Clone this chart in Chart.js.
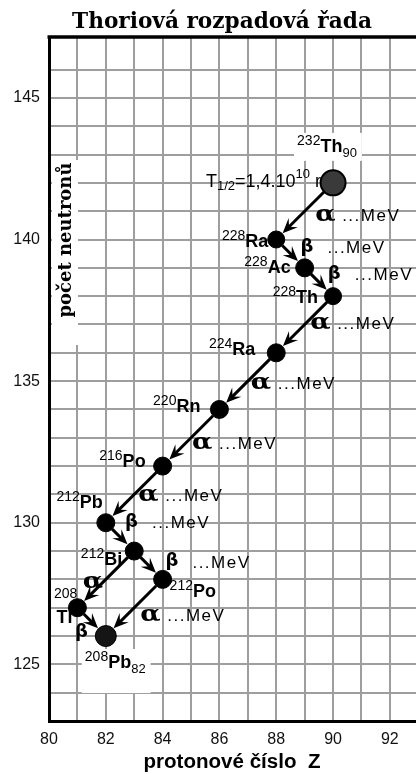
<!DOCTYPE html>
<html><head><meta charset="utf-8">
<script src="https://cdn.jsdelivr.net/npm/chart.js@4.4.1/dist/chart.umd.min.js"></script>
<style>html,body{margin:0;padding:0;background:#fff;overflow:hidden}#wrap{position:relative;width:416px;height:774px}</style>
</head><body><div id="wrap"><canvas id="c" width="416" height="774"></canvas></div>
<script>
// ---- data ----
const chartTitle = 'Thoriová rozpadová řada';
const xTitle = 'protonové číslo  Z';
const yTitle = 'počet neutronů';
const massNumbers = [232,228,228,228,224,220,216,212,212,212,208,208];
const symbols = ['Th','Ra','Ac','Th','Ra','Rn','Po','Pb','Bi','Po','Tl','Pb'];
const protonNumbers = [90,88,89,90,88,86,84,82,83,84,81,82];
const neutronNumbers = [142,140,139,138,136,134,132,130,129,128,127,126];
const decayFrom = [0,1,2,3,4,5,6,7,8,8,9,10];
const decayTo   = [1,2,3,4,5,6,7,8,9,10,11,11];
const decayTypes = ['α','β','β','α','α','α','α','β','β','α','α','β'];
const decayEnergy = ['...MeV','...MeV','...MeV','...MeV','...MeV','...MeV','...MeV','...MeV','...MeV','','...MeV',''];
const halfLife = {base:'1,4.10', exp:'10', unit:'r'};
const xTickValues = [80,82,84,86,88,90,92];
const yTickValues = [125,130,135,140,145];

// ---- styles / layout ----
const markerRadius = [12.5,8.5,9,8.5,9,9,9,9,9,9,9,10.5];
const markerFill = ['#3a3a3a','#000','#000','#000','#000','#000','#000','#000','#000','#000','#000','#151515'];
const showZ = [true,false,false,false,false,false,false,false,false,false,false,true];
const labelBg = [true,false,false,false,false,false,false,false,false,false,false,true];
const labelPlace = [
  ['left',-36,-31],['right',-8,7],['right',-14,5],['right',-15,7],['right',-21,2],
  ['right',-19,3],['right',-17,1],['right',-3,-15],['right',-12,14],['left',7,18],
  ['tl',0,0],['left',-21,32]
];
const decayPlace = [
  [10.5,4],[10,-6.5],[9,-8],[5.5,-1.5],[3,1.5],[1,5],[4,0.5],[5,-14.5],[17,-3.5],[-23,3],[6,7.5],[-16.6,10]
];
const SANS = '"Liberation Sans", Arial, sans-serif';
const F_SYM = 'bold 18px ' + SANS;
const F_SUP = '14px ' + SANS;
const F_SUB = '13px ' + SANS;
const F_MEV = '17px ' + SANS;
const F_ALPHA = 'bold 23px "DejaVu Serif", serif';
const F_BETA = 'bold 18px "DejaVu Sans", sans-serif';
const GRID = '#9e9e9e';

function drawRich(ctx, segs, x, y, align){
  let w = 0; const ws = [];
  for (const s of segs){ ctx.font = s.font; ctx.letterSpacing = s.ls || '0px'; const m = ctx.measureText(s.t).width; ws.push(m); w += m; }
  let cx = align === 'right' ? x - w : (align === 'center' ? x - w/2 : x);
  const x0 = cx;
  segs.forEach((s,i)=>{ ctx.font = s.font; ctx.letterSpacing = s.ls || '0px'; ctx.fillText(s.t, cx, y + (s.dy||0)); cx += ws[i]; });
  ctx.letterSpacing = '0px';
  return {x0, x1: x0 + w};
}
function measureRich(ctx, segs){
  let w = 0;
  for (const s of segs){ ctx.font = s.font; ctx.letterSpacing = s.ls || '0px'; w += ctx.measureText(s.t).width; }
  ctx.letterSpacing = '0px';
  return w;
}
function nuclideSegs(i){
  const s = [{t:String(massNumbers[i]), font:F_SUP, dy:-7},{t:symbols[i], font:F_SYM}];
  if (showZ[i]) s.push({t:String(protonNumbers[i]), font:F_SUB, dy:5});
  return s;
}
function arrow(ctx, x1,y1,x2,y2,r1,r2){
  const dx=x2-x1, dy=y2-y1, L=Math.hypot(dx,dy), ux=dx/L, uy=dy/L;
  const sx=x1+ux*r1, sy=y1+uy*r1, tx=x2-ux*(r2+0.5), ty=y2-uy*(r2+0.5);
  const hl=13, hw=6.5, px=-uy, py=ux;
  const bx=tx-ux*hl, by=ty-uy*hl;
  ctx.strokeStyle='#000'; ctx.fillStyle='#000'; ctx.lineWidth=3; ctx.lineCap='butt';
  ctx.beginPath(); ctx.moveTo(sx,sy); ctx.lineTo(bx+ux*5,by+uy*5); ctx.stroke();
  ctx.beginPath();
  ctx.moveTo(tx,ty);
  ctx.lineTo(bx+px*hw-ux*2, by+py*hw-uy*2);
  ctx.lineTo(bx+ux*4, by+uy*4);
  ctx.lineTo(bx-px*hw-ux*2, by-py*hw-uy*2);
  ctx.closePath(); ctx.fill();
}

const overlay = {
  id:'overlay',
  beforeDatasetsDraw(chart){
    const {ctx, chartArea:a, scales:{x,y}} = chart;
    ctx.save();
    ctx.strokeStyle='#000'; ctx.lineWidth=3.5;
    ctx.beginPath(); ctx.moveTo(a.left-1.5, a.top); ctx.lineTo(a.right, a.top); ctx.stroke();
    ctx.fillStyle='#fff'; ctx.fillRect(a.left+3, 160, 26, 185);
    ctx.textBaseline='alphabetic'; ctx.textAlign='left';
    labelPlace.forEach((p,i)=>{
      if (!labelBg[i]) return;
      const px=x.getPixelForValue(protonNumbers[i]), py=y.getPixelForValue(neutronNumbers[i]);
      const w = measureRich(ctx, nuclideSegs(i));
      const lx = px+p[1], by = py+p[2];
      ctx.fillStyle='#fff';
      ctx.fillRect(lx-3, by-19, w+8, i===11 ? 44 : 28);
    });
    decayFrom.forEach((f,k)=>{
      const t=decayTo[k];
      arrow(ctx, x.getPixelForValue(protonNumbers[f]), y.getPixelForValue(neutronNumbers[f]),
                 x.getPixelForValue(protonNumbers[t]), y.getPixelForValue(neutronNumbers[t]),
                 markerRadius[f], markerRadius[t]);
    });
    ctx.restore();
  },
  afterDatasetsDraw(chart){
    const {ctx, chartArea:a, scales:{x,y}} = chart;
    ctx.save();
    ctx.fillStyle='#000'; ctx.textAlign='left'; ctx.textBaseline='alphabetic';
    labelPlace.forEach((p,i)=>{
      const px=x.getPixelForValue(protonNumbers[i]), py=y.getPixelForValue(neutronNumbers[i]);
      if (p[0]==='tl'){
        drawRich(ctx,[{t:String(massNumbers[i]),font:F_SUP}], px, py-10, 'right');
        drawRich(ctx,[{t:symbols[i],font:F_SYM}], px-5, py+15, 'right');
      } else {
        drawRich(ctx, nuclideSegs(i), px+p[1], py+p[2], p[0]);
      }
    });
    {
      const px=x.getPixelForValue(protonNumbers[0]), py=y.getPixelForValue(neutronNumbers[0]);
      const M='18px '+SANS, S='13px '+SANS;
      drawRich(ctx,[{t:'T',font:M},{t:'1/2',font:S,dy:3},{t:'='+halfLife.base,font:M},{t:halfLife.exp,font:S,dy:-9},{t:' '+halfLife.unit,font:M}], px-12, py+4, 'right');
    }
    decayFrom.forEach((f,k)=>{
      const t=decayTo[k];
      const mx=(x.getPixelForValue(protonNumbers[f])+x.getPixelForValue(protonNumbers[t]))/2;
      const my=(y.getPixelForValue(neutronNumbers[f])+y.getPixelForValue(neutronNumbers[t]))/2;
      const gx=mx+decayPlace[k][0], gy=my+decayPlace[k][1];
      if (decayTypes[k]==='α'){
        ctx.save(); ctx.translate(gx, gy+6); ctx.scale(1.15,1); ctx.font=F_ALPHA; ctx.fillText('α', 0, 0); ctx.restore();
      } else { ctx.font=F_BETA; ctx.fillText('β', gx, gy+4.7); }
      if (decayEnergy[k]){ ctx.font=F_MEV; ctx.letterSpacing='1.5px'; ctx.fillText(decayEnergy[k], gx+27, gy+6); ctx.letterSpacing='0px'; }
    });
    ctx.restore();
  },
  afterDraw(chart){
    const {ctx, chartArea:a} = chart;
    ctx.save();
    ctx.fillStyle='#000'; ctx.textAlign='center'; ctx.textBaseline='alphabetic';
    ctx.font='bold 20px "DejaVu Serif", serif';
    let w=ctx.measureText(chartTitle).width; let fs=20*300/w;
    ctx.font='bold '+fs.toFixed(2)+'px "DejaVu Serif", serif';
    ctx.fillText(chartTitle, 222, 28);
    ctx.font='bold 20px '+SANS;
    w=ctx.measureText(xTitle).width; fs=20*177/w;
    ctx.font='bold '+fs.toFixed(2)+'px '+SANS;
    ctx.fillText(xTitle, 232, 768);
    ctx.translate(a.left+17, 240); ctx.rotate(-Math.PI/2);
    ctx.font='bold 15px "DejaVu Serif", serif';
    w=ctx.measureText(yTitle).width; fs=15*155/w;
    ctx.font='bold '+fs.toFixed(2)+'px "DejaVu Serif", serif';
    ctx.textBaseline='middle';
    ctx.fillText(yTitle, 0, 0);
    ctx.restore();
  }
};

const tickFont = {family:'"Liberation Sans", Arial, sans-serif', size:16};
const chart = new Chart(document.getElementById('c'), {
  type:'scatter',
  data:{datasets:[{
    data: protonNumbers.map((z,i)=>({x:z, y:neutronNumbers[i]})),
    pointRadius: markerRadius,
    pointHoverRadius: markerRadius,
    pointBackgroundColor: markerFill,
    pointBorderColor: '#000',
    pointBorderWidth: markerRadius.map((r,i)=> i===0 ? 2 : 1),
    showLine:false, clip:false
  }]},
  options:{
    responsive:false, animation:false, events:[],
    layout:{padding:{top:37,right:0,bottom:0,left:0}},
    plugins:{legend:{display:false}, tooltip:{enabled:false}, title:{display:false}},
    scales:{
      x:{type:'linear', min:80, max:92.92,
        border:{color:'#000', width:3},
        grid:{color:GRID, lineWidth:2, drawTicks:false},
        ticks:{stepSize:1, includeBounds:false, autoSkip:false, maxRotation:0, padding:9, color:'#111', font:tickFont,
          callback:v=> xTickValues.includes(Math.round(v)) ? String(Math.round(v)) : ''},
        afterFit:s=>{s.height=53; s.paddingLeft=0; s.paddingRight=0;}
      },
      y:{type:'linear', min:123, max:147.15,
        border:{color:'#000', width:3},
        grid:{color:c=> (c.tick && c.tick.value>146.5) ? 'rgba(0,0,0,0)' : GRID, lineWidth:2, drawTicks:false},
        ticks:{stepSize:1, includeBounds:false, autoSkip:false, padding:9, color:'#111', font:tickFont,
          callback:v=> yTickValues.includes(Math.round(v)) ? String(Math.round(v)) : ''},
        afterFit:s=>{s.width=49; s.paddingTop=0; s.paddingBottom=0;}
      }
    }
  },
  plugins:[overlay]
});
// markers must not add extra padding around the plot area
chart.getDatasetMeta(0).controller.getMaxOverflow = () => 0;
chart.update('none');
</script>
</body></html>
